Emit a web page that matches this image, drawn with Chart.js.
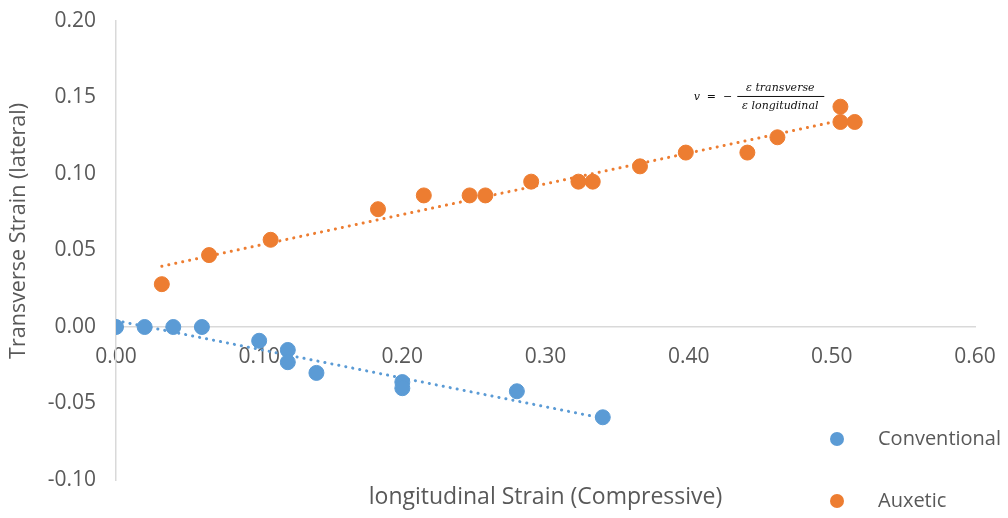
<!DOCTYPE html>
<html>
<head>
<meta charset="utf-8">
<script src="https://cdn.jsdelivr.net/npm/chart.js@4.4.1/dist/chart.umd.min.js"></script>
<style>
  html, body { margin: 0; padding: 0; background: #fff; }
  #wrap { width: 1008px; height: 518px; position: relative; }
</style>
</head>
<body>
<div id="wrap"><canvas id="chart"></canvas></div>
<script>
// values
const conventionalX = [0, 0.02, 0.04, 0.06, 0.10, 0.12, 0.12, 0.14, 0.20, 0.20, 0.28, 0.34];
const conventionalY = [0, 0, 0, 0, -0.009, -0.015, -0.023, -0.030, -0.036, -0.040, -0.042, -0.059];
const auxeticX = [0.032, 0.065, 0.108, 0.183, 0.215, 0.247, 0.258, 0.290, 0.323, 0.333, 0.366, 0.398, 0.441, 0.462, 0.506, 0.506, 0.516];
const auxeticY = [0.028, 0.047, 0.057, 0.077, 0.086, 0.086, 0.086, 0.095, 0.095, 0.095, 0.105, 0.114, 0.114, 0.124, 0.144, 0.134, 0.134];
const seriesNames = ["Conventional", "Auxetic"];
const xTicks = [0, 0.1, 0.2, 0.3, 0.4, 0.5, 0.6];
const yTicks = [-0.10, -0.05, 0, 0.05, 0.10, 0.15, 0.20];

const BLUE = "#5B9BD5";
const ORANGE = "#ED7D31";
const TEXT = "#595959";
const AXIS = "#d9d9d9";
const FONT = "'Open Sans', sans-serif";

function toPoints(xs, ys) {
  return xs.map((x, i) => ({ x: x, y: ys[i] }));
}

// linear trendline (least squares) over the data's x range
function trend(xs, ys) {
  const n = xs.length;
  const mx = xs.reduce((a, b) => a + b, 0) / n;
  const my = ys.reduce((a, b) => a + b, 0) / n;
  let sxy = 0, sxx = 0;
  for (let i = 0; i < n; i++) {
    sxy += (xs[i] - mx) * (ys[i] - my);
    sxx += (xs[i] - mx) * (xs[i] - mx);
  }
  const k = sxy / sxx;
  const b = my - k * mx;
  const x0 = Math.min(...xs), x1 = Math.max(...xs);
  return [{ x: x0, y: k * x0 + b }, { x: x1, y: k * x1 + b }];
}

function trendSet(xs, ys, color) {
  return {
    type: "line",
    data: trend(xs, ys),
    borderColor: color,
    borderWidth: 3,
    borderDash: [0.1, 7],
    borderCapStyle: "round",
    pointRadius: 0,
    fill: false,
    isTrend: true
  };
}

// legend bottom right, drawn over the plot like Excel does
const legendPlugin = {
  id: "sideLegend",
  afterDraw(chart) {
    const ctx = chart.ctx;
    const sets = chart.data.datasets.filter(d => !d.isTrend);
    const rows = [439, 501];
    ctx.save();
    sets.forEach((d, i) => {
      ctx.beginPath();
      ctx.arc(837, rows[i], 7, 0, Math.PI * 2);
      ctx.fillStyle = d.backgroundColor;
      ctx.fill();
      ctx.fillStyle = TEXT;
      ctx.font = "20px " + FONT;
      ctx.textBaseline = "middle";
      ctx.textAlign = "left";
      ctx.fillText(d.label, 878, rows[i]);
    });
    ctx.restore();
  }
};

// Poisson ratio formula near the top of the auxetic trend
const formulaPlugin = {
  id: "formula",
  afterDatasetsDraw(chart) {
    const ctx = chart.ctx;
    const cx = chart.scales.x.getPixelForValue(0.464);
    const cy = chart.scales.y.getPixelForValue(0.151);
    ctx.save();
    ctx.fillStyle = "#111";
    ctx.strokeStyle = "#111";
    ctx.font = "italic 11px 'DejaVu Serif', serif";
    ctx.textBaseline = "middle";
    ctx.textAlign = "center";
    ctx.fillText("ε transverse", cx, cy - 8);
    ctx.fillText("ε longitudinal", cx, cy + 10);
    ctx.lineWidth = 1;
    ctx.beginPath();
    ctx.moveTo(cx - 43, cy + 0.5);
    ctx.lineTo(cx + 44, cy + 0.5);
    ctx.stroke();
    ctx.textAlign = "right";
    ctx.fillText("v  =  −", cx - 48, cy + 1);
    ctx.restore();
  }
};

const ctx = document.getElementById("chart").getContext("2d");
new Chart(ctx, {
  type: "scatter",
  data: {
    datasets: [
      {
        label: seriesNames[0],
        data: toPoints(conventionalX, conventionalY),
        backgroundColor: BLUE,
        borderColor: BLUE,
        pointRadius: 7.5,
        pointHoverRadius: 7.5
      },
      {
        label: seriesNames[1],
        data: toPoints(auxeticX, auxeticY),
        backgroundColor: ORANGE,
        borderColor: ORANGE,
        pointRadius: 7.5,
        pointHoverRadius: 7.5
      },
      trendSet(conventionalX, conventionalY, BLUE),
      trendSet(auxeticX, auxeticY, ORANGE)
    ]
  },
  options: {
    responsive: true,
    maintainAspectRatio: false,
    animation: false,
    layout: { padding: { top: 21, right: 33, bottom: 0, left: 0 } },
    plugins: {
      legend: { display: false },
      tooltip: { enabled: false }
    },
    scales: {
      x: {
        type: "linear",
        position: { y: 0 },
        min: 0,
        max: 0.6,
        afterBuildTicks: s => { s.ticks = xTicks.map(v => ({ value: v })); },
        ticks: {
          color: TEXT,
          font: { family: FONT, size: 21 },
          padding: 17,
          maxRotation: 0,
          callback: v => v.toFixed(2)
        },
        grid: { color: "rgba(0,0,0,0)", drawTicks: false },
        border: { display: true, color: AXIS, width: 1.5 },
        afterFit: s => {
          s.paddingLeft = 0;
          s.paddingRight = 0;
        }
      },
      x2: {
        type: "linear",
        axis: "x",
        position: "bottom",
        min: 0,
        max: 0.6,
        ticks: { display: false },
        grid: { display: false, drawTicks: false },
        border: { display: false },
        title: {
          display: true,
          text: "longitudinal Strain (Compressive)",
          color: TEXT,
          font: { family: FONT, size: 23 },
          padding: { top: 0, bottom: 7 }
        },
        afterFit: s => {
          s.height = 38;
          s.paddingLeft = 0;
          s.paddingRight = 0;
        }
      },
      y: {
        type: "linear",
        position: "left",
        min: -0.10,
        max: 0.20,
        afterBuildTicks: s => { s.ticks = yTicks.map(v => ({ value: v })); },
        ticks: {
          color: TEXT,
          font: { family: FONT, size: 21 },
          padding: 20,
          callback: v => v.toFixed(2)
        },
        grid: { color: "rgba(0,0,0,0)", drawTicks: false },
        border: { display: true, color: AXIS, width: 1.5 },
        title: {
          display: true,
          text: "       Transverse Strain (lateral)",
          color: TEXT,
          font: { family: FONT, size: 21.5 },
          padding: { top: 6, bottom: 0 }
        },
        afterFit: s => {
          s.width = 116;
          s.paddingTop = 0;
          s.paddingBottom = 0;
        }
      }
    }
  },
  plugins: [legendPlugin, formulaPlugin]
});
</script>
</body>
</html>
